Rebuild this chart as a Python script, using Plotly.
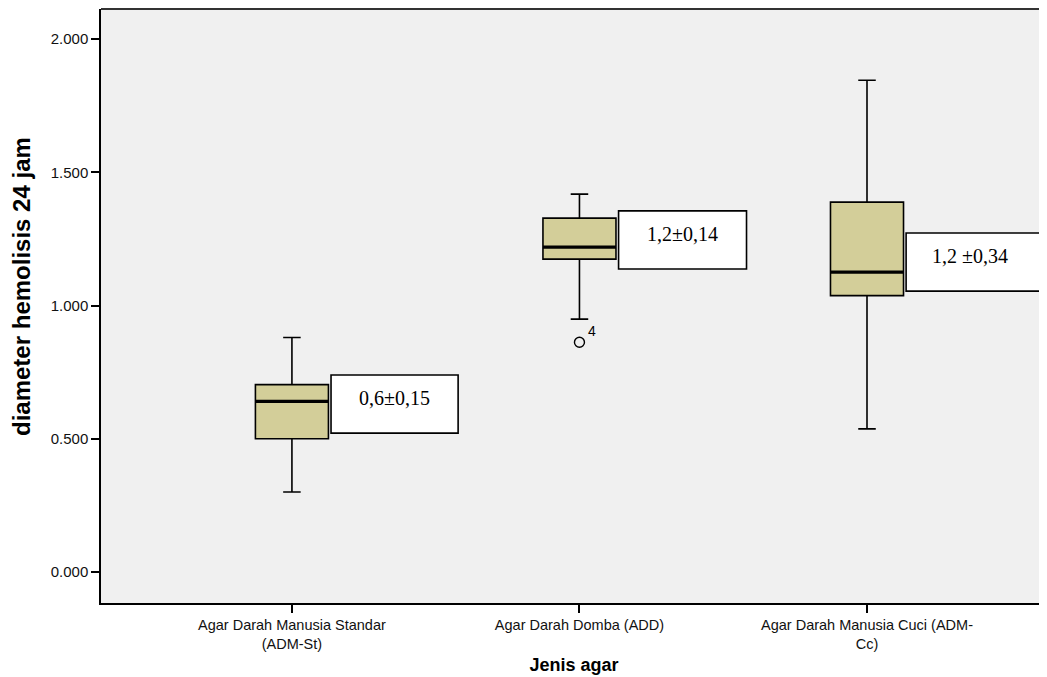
import plotly.graph_objects as go

categories = ["Agar Darah Manusia Standar<br>(ADM-St)", "Agar Darah Domba (ADD)", "Agar Darah Manusia Cuci (ADM-<br>Cc)"]
lower_whisker = [0.300, 0.949, 0.537]
q1 = [0.500, 1.174, 1.037]
median = [0.640, 1.219, 1.125]
q3 = [0.703, 1.328, 1.388]
upper_whisker = [0.880, 1.418, 1.845]
outlier_cat = [1]
outlier_val = [0.862]
outlier_label = ["4"]
summary_labels = ["0,6±0,15", "1,2±0,14", "1,2 ±0,34"]
label_top = [0.739, 1.355, 1.272]
yticks = [0.0, 0.5, 1.0, 1.5, 2.0]

xpos = list(range(len(categories)))
BOXW = 0.254
LBL_H = 0.218          # label rectangle height (data units)
LBL_W = [0.442, 0.445, 0.485]

fig = go.Figure()
fig.add_trace(go.Box(
    x=xpos, q1=q1, median=median, q3=q3,
    lowerfence=lower_whisker, upperfence=upper_whisker,
    width=BOXW, whiskerwidth=0.24, boxpoints=False,
    fillcolor="#d3ce99", line=dict(color="black", width=1.6),
    showlegend=False, hoverinfo="skip",
))
fig.add_trace(go.Scatter(
    x=outlier_cat, y=outlier_val, mode="markers",
    marker=dict(symbol="circle-open", size=10, color="black", line=dict(width=1.4)),
    showlegend=False, hoverinfo="skip",
))

shapes = []
for i, m in enumerate(median):
    shapes.append(dict(type="line", xref="x", yref="y", x0=i - BOXW / 2, x1=i + BOXW / 2,
                       y0=m, y1=m, line=dict(color="black", width=3.2)))
for i, yt in enumerate(label_top):
    shapes.append(dict(type="rect", xref="x", yref="y", x0=i + 0.136, x1=i + 0.136 + LBL_W[i],
                       y0=yt - LBL_H, y1=yt, fillcolor="white",
                       line=dict(color="black", width=1.6), layer="above"))
shapes.append(dict(type="line", xref="paper", yref="paper", x0=0, x1=1, y0=1, y1=1,
                   line=dict(color="#333", width=2)))
fig.update_layout(shapes=shapes)

for c, v, t in zip(outlier_cat, outlier_val, outlier_label):
    fig.add_annotation(x=c, y=v, text=t, showarrow=False, xshift=13, yshift=11,
                       font=dict(family="Liberation Sans, Arial", size=14, color="black"))

for i, (t, yt) in enumerate(zip(summary_labels, label_top)):
    fig.add_annotation(
        x=i + 0.136 + 0.442 / 2, y=yt - 0.087, xref="x", yref="y",
        xanchor="center", yanchor="middle", text=t, showarrow=False,
        font=dict(family="Liberation Serif, Times New Roman", size=20, color="black"),
    )

# y-axis title
fig.add_annotation(
    x=0, y=0.532, xref="paper", yref="paper", xshift=-79, textangle=-90,
    xanchor="center", yanchor="middle", showarrow=False,
    text="<b>diameter hemolisis 24 jam</b>",
    font=dict(family="Liberation Sans Narrow, Liberation Sans, Arial", size=24, color="black"),
)

fig.update_layout(
    width=1039, height=669,
    margin=dict(l=93, r=0, t=1, b=74),
    paper_bgcolor="white", plot_bgcolor="#f0f0f0",
    font=dict(family="Liberation Sans, Arial", color="black"),
    xaxis=dict(
        range=[-0.664, 2.626], tickvals=xpos, ticktext=categories,
        showgrid=False, zeroline=False, showline=True, linecolor="black", linewidth=1.5,
        ticks="outside", ticklen=8, tickwidth=2, tickcolor="black",
        tickfont=dict(size=14.5, color="#111"),
        title=dict(text="<b>Jenis agar</b>", font=dict(size=18), standoff=7),
    ),
    yaxis=dict(
        range=[-0.1163, 2.1126], tickvals=yticks, tickformat=".3f",
        showgrid=False, zeroline=False, showline=True, linecolor="black", linewidth=1.5,
        ticks="outside", ticklen=8, tickwidth=2, tickcolor="black",
        tickfont=dict(size=15, color="#111"),
    ),
)

fig.write_html("out.html")
